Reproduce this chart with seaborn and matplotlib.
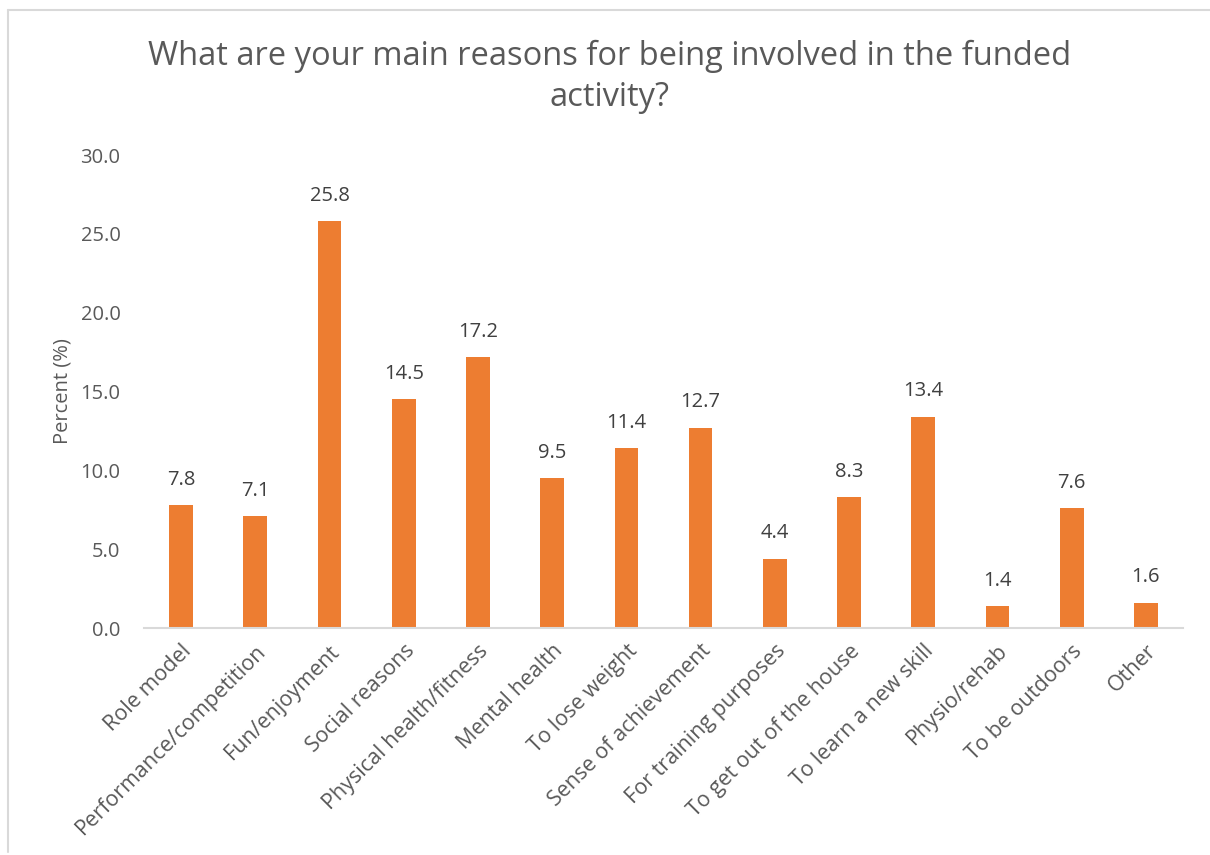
import matplotlib
matplotlib.use("Agg")
import matplotlib.pyplot as plt
from matplotlib.lines import Line2D
import seaborn as sns
import pandas as pd

categories = [
    "Role model", "Performance/competition", "Fun/enjoyment", "Social reasons",
    "Physical health/fitness", "Mental health", "To lose weight",
    "Sense of achievement", "For training purposes", "To get out of the house",
    "To learn a new skill", "Physio/rehab", "To be outdoors", "Other",
]
percent = [7.8, 7.1, 25.8, 14.5, 17.2, 9.5, 11.4, 12.7, 4.4, 8.3, 13.4, 1.4, 7.6, 1.6]
y_ticks = [0, 5, 10, 15, 20, 25, 30]

df = pd.DataFrame({"reason": categories, "percent": percent})

sns.set_theme(style="white")
plt.rcParams["font.family"] = ["Open Sans", "DejaVu Sans"]

TEXT = "#595959"
LABEL = "#404040"
ORANGE = "#ED7D31"
GRID = "#D9D9D9"

W, H = 1210, 855
fig = plt.figure(figsize=(W / 100, H / 100), dpi=100)
ax = fig.add_axes([144 / W, 1 - 628 / H, (1183 - 144) / W, (628 - 155) / H])

sns.barplot(data=df, x="reason", y="percent", color=ORANGE, width=0.32,
            saturation=1, ax=ax, edgecolor="none")

ax.set_ylim(0, 30)
ax.set_xlim(-0.5, len(categories) - 0.5)
ax.set_yticks(y_ticks)
ax.set_yticklabels([f"{t:.1f}" for t in y_ticks], fontsize=14.5, color=TEXT)
ax.tick_params(axis="y", length=0, pad=17)
ax.tick_params(axis="x", length=0, pad=9)
ax.set_xticks(range(len(categories)))
ax.set_xticklabels(categories, rotation=45, ha="right", rotation_mode="anchor",
                   fontsize=15.5, color=TEXT)
ax.set_xlabel("")
ax.set_ylabel("Percent (%)", fontsize=14.5, color=TEXT, labelpad=6)

for side in ["top", "right", "left"]:
    ax.spines[side].set_visible(False)
ax.spines["bottom"].set_color(GRID)
ax.spines["bottom"].set_linewidth(1.5)

for i, v in enumerate(percent):
    ax.annotate(f"{v:.1f}", (i, v), xytext=(0, 11), textcoords="offset points",
                ha="center", va="bottom", fontsize=14.5, color=LABEL)

fig.text(0.504, 1 - 77 / H, "What are your main reasons for being involved in the funded\nactivity?",
         ha="center", va="center", fontsize=23.5, color=TEXT, linespacing=1.3)

# chart frame (top and left edges)
fig.add_artist(Line2D([8 / W, 8 / W], [1 - 852 / H, 1 - 10 / H], transform=fig.transFigure,
                      color=GRID, linewidth=1.5))
fig.add_artist(Line2D([8 / W, 1], [1 - 10 / H, 1 - 10 / H], transform=fig.transFigure,
                      color=GRID, linewidth=1.5))

fig.savefig("out.png", dpi=100, facecolor="white")
